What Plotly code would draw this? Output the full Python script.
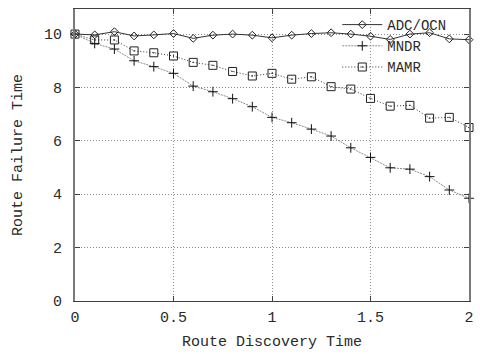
import plotly.graph_objects as go

x_vals = [0.0, 0.1, 0.2, 0.3, 0.4, 0.5, 0.6, 0.7, 0.8, 0.9, 1.0,
          1.1, 1.2, 1.3, 1.4, 1.5, 1.6, 1.7, 1.8, 1.9, 2.0]
adc_ocn = [10.0, 9.97, 10.09, 9.93, 9.97, 10.02, 9.84, 9.96, 10.0, 9.96, 9.86,
           9.96, 10.02, 10.05, 10.0, 9.92, 9.8, 10.0, 10.05, 9.82, 9.79]
mndr = [10.0, 9.65, 9.44, 9.0, 8.78, 8.53, 8.05, 7.84, 7.58, 7.28, 6.88,
        6.68, 6.44, 6.18, 5.74, 5.38, 4.99, 4.94, 4.66, 4.16, 3.85]
mamr = [10.0, 9.78, 9.78, 9.37, 9.3, 9.18, 8.94, 8.83, 8.6, 8.43, 8.53,
        8.31, 8.4, 8.03, 7.94, 7.59, 7.3, 7.33, 6.85, 6.88, 6.5]

x_ticks = [0, 0.5, 1, 1.5, 2]
x_tick_labels = ["0", "0.5", "1", "1.5", "2"]
y_ticks = [0, 2, 4, 6, 8, 10]
y_tick_labels = ["0", "2", "4", "6", "8", "10"]

FONT = "Liberation Mono, DejaVu Sans Mono, monospace"
TXT = "#2a2a2a"

fig = go.Figure()
fig.add_trace(go.Scatter(
    x=x_vals, y=adc_ocn, name="ADC/OCN", mode="lines+markers", cliponaxis=False,
    line=dict(color="#333333", width=1),
    marker=dict(symbol="diamond-open", size=6, color="#222222", line=dict(width=1)),
))
fig.add_trace(go.Scatter(
    x=x_vals, y=mndr, name="MNDR", mode="lines+markers", cliponaxis=False,
    line=dict(color="#8a8a8a", width=1, dash="2px,1px"),
    marker=dict(symbol="cross-thin", size=7, color="#111111", line=dict(width=1, color="#111111")),
))
fig.add_trace(go.Scatter(
    x=x_vals, y=mamr, name="MAMR", mode="lines+markers", cliponaxis=False,
    line=dict(color="#333333", width=1, dash="1px,2px"),
    marker=dict(symbol="square-open-dot", size=8, color="#222222", line=dict(width=1)),
))

fig.update_layout(
    width=480, height=354,
    margin=dict(l=75, r=6, t=9, b=53),
    paper_bgcolor="white", plot_bgcolor="white",
    font=dict(family=FONT, size=15, color=TXT),
    showlegend=True,
    legend=dict(
        x=0.955, y=1.0, xanchor="right", yanchor="top",
        bgcolor="rgba(0,0,0,0)", borderwidth=0,
        font=dict(family=FONT, size=14, color=TXT),
        tracegroupgap=0, itemwidth=40,
    ),
    xaxis=dict(
        range=[0, 2], tickvals=x_ticks, ticktext=x_tick_labels,
        showgrid=True, gridcolor="#8c8c8c", griddash="1px,2px", gridwidth=1,
        showline=True, linecolor="#404040", linewidth=1, mirror="ticks",
        ticks="inside", ticklen=5, tickcolor="#404040",
        zeroline=False, ticklabeloverflow="allow", ticklabelstandoff=2,
        title=dict(text="Route Discovery Time", standoff=9,
                   font=dict(family=FONT, size=15, color=TXT)),
        tickfont=dict(family=FONT, size=15, color=TXT),
    ),
    yaxis=dict(
        range=[0, 10.94], tickvals=y_ticks, ticktext=y_tick_labels,
        showgrid=True, gridcolor="#8c8c8c", griddash="1px,2px", gridwidth=1,
        showline=True, linecolor="#7a7a7a", linewidth=2, mirror="ticks",
        ticks="inside", ticklen=5, tickcolor="#404040",
        zeroline=False, ticklabelstandoff=8,
        title=dict(text="Route Failure Time", standoff=18,
                   font=dict(family=FONT, size=15, color=TXT)),
        tickfont=dict(family=FONT, size=15, color=TXT),
    ),
)

fig.write_html("out.html", config={"displayModeBar": False},
               post_script="document.body.style.margin='0px';")
